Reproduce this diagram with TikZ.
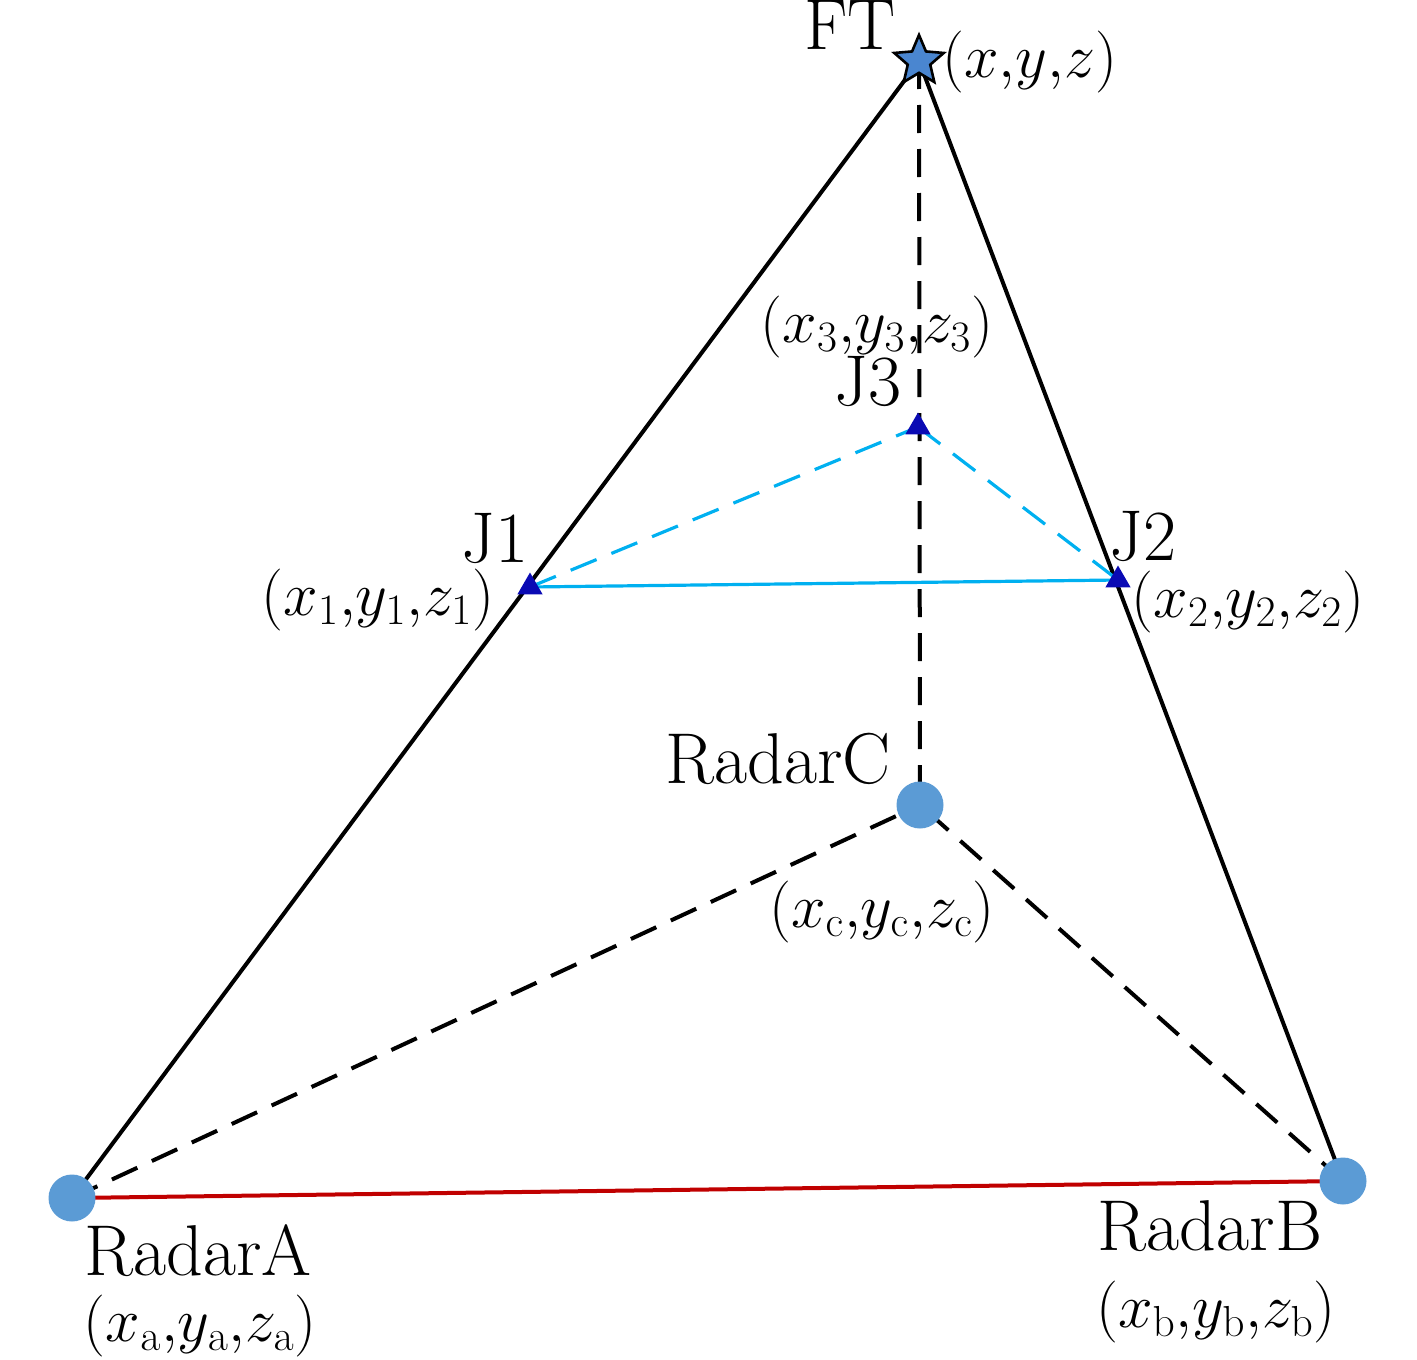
\RequirePackage{fix-cm}
\documentclass[tikz,border=0pt]{standalone}
\usetikzlibrary{shapes.geometric}
\definecolor{radarblue}{RGB}{91,155,213}
\definecolor{jamblue}{RGB}{10,10,180}
\definecolor{cyanline}{RGB}{0,176,240}
\definecolor{redline}{RGB}{192,0,0}
\definecolor{starblue}{RGB}{74,134,208}
\begin{document}
\begin{tikzpicture}[x=0.5pt,y=-0.5pt,
  radar/.style={circle,fill=radarblue,minimum size=23.5pt,inner sep=0pt},
  jam/.style={regular polygon,regular polygon sides=3,fill=jamblue,minimum size=14.5pt,inner sep=0pt},
  target/.style={star,star points=5,star point ratio=2.2,fill=starblue,draw=black,line width=1.3pt,minimum size=26pt,inner sep=0pt},
  lbl/.style={inner sep=0pt,font=\fontsize{36}{42}\selectfont},
  coord/.style={inner sep=0pt,font=\fontsize{31}{36}\selectfont},
  solidline/.style={line width=2pt,black},
  dashline/.style={line width=2pt,black,dash pattern=on 14pt off 8pt},
  cyansolid/.style={line width=1.6pt,cyanline},
  cyandash/.style={line width=1.6pt,cyanline,dash pattern=on 14pt off 8pt}]
\useasboundingbox (0,0) rectangle (1417,1359);
% coordinates
\coordinate (ftc) at (919,61);
\coordinate (ac) at (72,1198);
\coordinate (bc) at (1343,1181);
\coordinate (cc) at (920,805);
\coordinate (j1c) at (530,587);
\coordinate (j2c) at (1118,580);
\coordinate (j3c) at (918,427);
% lines
\draw[dashline] (ftc) -- (cc);
\draw[dashline] (ac) -- (cc);
\draw[dashline] (bc) -- (cc);
\draw[solidline] (ac) -- (ftc);
\draw[solidline] (bc) -- (ftc);
\draw[line width=2pt,redline] (ac) -- (bc);
\draw[cyansolid] (j1c) -- (j2c);
\draw[cyandash] (j1c) -- (j3c);
\draw[cyandash] (j3c) -- (j2c);
% markers
\node[radar] (A) at (ac) {};
\node[radar] (B) at (bc) {};
\node[radar] (C) at (cc) {};
\node[jam] (J1) at (j1c) {};
\node[jam] (J2) at (j2c) {};
\node[jam] (J3) at (j3c) {};
\node[target] (FT) at (ftc) {};
% labels
\node[lbl,anchor=base] (ftl) at (850,50) {FT};
\node[coord] (ftp) at (1030,62) {$(x{,}y{,}z)$};
\node[coord] (j3p) at (877,327) {$(x_3{,}y_3{,}z_3)$};
\node[lbl,anchor=base] (j3l) at (868,405) {J3};
\node[lbl,anchor=base] (j1l) at (495,562) {J1};
\node[coord] (j1p) at (378,600) {$(x_1{,}y_1{,}z_1)$};
\node[lbl,anchor=base] (j2l) at (1143,560) {J2};
\node[coord] (j2p) at (1248,602) {$(x_2{,}y_2{,}z_2)$};
\node[lbl,anchor=base] (cl) at (778,783) {RadarC};
\node[coord] (cp) at (882,912) {$(x_{\mathrm{c}}{,}y_{\mathrm{c}}{,}z_{\mathrm{c}})$};
\node[lbl,anchor=base] (al) at (198,1275) {RadarA};
\node[coord] (ap) at (200,1326) {$(x_{\mathrm{a}}{,}y_{\mathrm{a}}{,}z_{\mathrm{a}})$};
\node[lbl,anchor=base] (bl) at (1210,1250) {RadarB};
\node[coord] (bp) at (1216,1312) {$(x_{\mathrm{b}}{,}y_{\mathrm{b}}{,}z_{\mathrm{b}})$};
\end{tikzpicture}
\end{document}
